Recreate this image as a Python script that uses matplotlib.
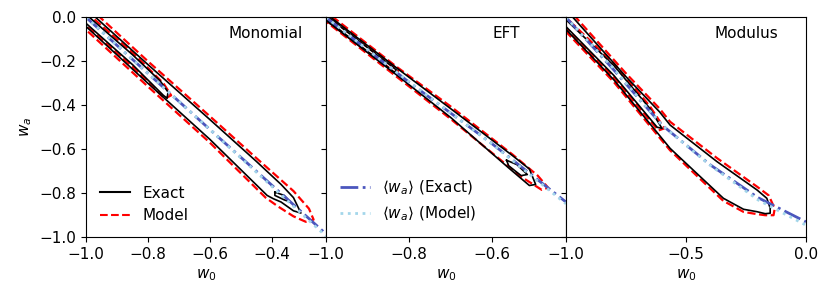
import matplotlib
matplotlib.use("Agg")
import matplotlib.pyplot as plt

# ---- panel names and x ranges ----
panels = ["Monomial", "EFT", "Modulus"]
xlims = [(-1.0, -0.225), (-1.0, -0.422), (-1.0, 0.0)]
xticks = [[-1.0, -0.8, -0.6, -0.4], [-1.0, -0.8, -0.6], [-1.0, -0.5, 0.0]]

# ---- mean w_a lines (exact / model) ----
mono_mean_w0 = [-1.0, -0.6, -0.225]
mono_mean_exact = [0.0, -0.51, -0.985]
mono_mean_model = [0.0, -0.51, -0.995]

eft_mean_w0 = [-1.0, -0.8, -0.6, -0.422]
eft_mean_exact = [0.0, -0.295, -0.575, -0.84]
eft_mean_model = [0.0, -0.293, -0.576, -0.848]

mod_mean_w0 = [-1.0, -0.8, -0.6, -0.4, -0.2, 0.0]
mod_mean_exact = [0.0, -0.24, -0.49, -0.67, -0.82, -0.93]
mod_mean_model = [0.0, -0.235, -0.49, -0.672, -0.83, -0.945]

# ---- contour outlines (w0, w_a), closed polygons ----
# Monomial
mono_exact_outer_w0 = [-1.04, -0.8, -0.6, -0.45, -0.37, -0.33, -0.306, -0.33, -0.37, -0.395, -0.415, -0.6, -0.8, -1.04]
mono_exact_outer_wa = [0.09, -0.215, -0.465, -0.655, -0.76, -0.82, -0.89, -0.88, -0.84, -0.825, -0.81, -0.555, -0.30, 0.01]
mono_exact_inner_w0 = [-1.03, -0.85, -0.76, -0.735, -0.738, -0.75, -0.85, -1.03]
mono_exact_inner_wa = [0.05, -0.17, -0.29, -0.34, -0.368, -0.355, -0.215, 0.01]
mono_exact_small_w0 = [-0.39, -0.36, -0.34, -0.36, -0.39, -0.39]
mono_exact_small_wa = [-0.795, -0.81, -0.84, -0.83, -0.81, -0.795]
mono_model_outer_w0 = [-1.04, -0.8, -0.6, -0.45, -0.33, -0.28, -0.265, -0.29, -0.33, -0.38, -0.42, -0.6, -0.8, -1.04]
mono_model_outer_wa = [0.11, -0.20, -0.45, -0.64, -0.79, -0.87, -0.92, -0.93, -0.905, -0.86, -0.82, -0.57, -0.315, -0.005]
mono_model_inner_w0 = [-1.03, -0.85, -0.75, -0.725, -0.745, -0.85, -1.03]
mono_model_inner_wa = [0.06, -0.16, -0.30, -0.355, -0.37, -0.225, 0.0]

# EFT
eft_exact_outer_w0 = [-1.03, -0.83, -0.7, -0.55, -0.51, -0.495, -0.51, -0.56, -0.7, -0.83, -1.03]
eft_exact_outer_wa = [0.06, -0.23, -0.415, -0.63, -0.69, -0.76, -0.765, -0.685, -0.455, -0.262, 0.03]
eft_exact_inner_w0 = [-1.03, -0.9, -0.83, -0.835, -0.9, -1.03]
eft_exact_inner_wa = [0.052, -0.138, -0.24, -0.25, -0.155, 0.035]
eft_exact_small_w0 = [-0.565, -0.54, -0.515, -0.53, -0.56, -0.565]
eft_exact_small_wa = [-0.65, -0.67, -0.715, -0.72, -0.675, -0.65]
eft_model_outer_w0 = [-1.03, -0.83, -0.7, -0.55, -0.49, -0.465, -0.48, -0.53, -0.7, -0.83, -1.03]
eft_model_outer_wa = [0.07, -0.225, -0.405, -0.625, -0.72, -0.775, -0.785, -0.725, -0.462, -0.27, 0.025]
eft_model_inner_w0 = [-1.03, -0.9, -0.825, -0.83, -0.9, -1.03]
eft_model_inner_wa = [0.055, -0.135, -0.24, -0.255, -0.158, 0.03]

# Modulus
mod_exact_outer_w0 = [-1.0, -0.75, -0.61, -0.566, -0.371, -0.204, -0.163, -0.149, -0.149, -0.17, -0.204, -0.26, -0.344, -0.441, -0.566, -0.608, -0.8, -1.0, -1.02]
mod_exact_outer_wa = [0.035, -0.27, -0.43, -0.49, -0.656, -0.785, -0.823, -0.868, -0.891, -0.893, -0.884, -0.873, -0.823, -0.724, -0.596, -0.54, -0.285, -0.055, -0.03]
mod_exact_inner_w0 = [-1.02, -0.8, -0.65, -0.60, -0.62, -0.8, -1.02]
mod_exact_inner_wa = [0.01, -0.22, -0.415, -0.505, -0.50, -0.265, -0.02]
mod_model_outer_w0 = [-1.0, -0.75, -0.61, -0.566, -0.371, -0.204, -0.155, -0.13, -0.135, -0.17, -0.204, -0.26, -0.344, -0.441, -0.566, -0.608, -0.8, -1.0]
mod_model_outer_wa = [0.05, -0.255, -0.415, -0.475, -0.64, -0.77, -0.81, -0.87, -0.90, -0.90, -0.895, -0.885, -0.835, -0.735, -0.605, -0.55, -0.295, -0.065]
mod_model_inner_w0 = [-1.02, -0.8, -0.65, -0.59, -0.615, -0.8, -1.02]
mod_model_inner_wa = [0.02, -0.21, -0.405, -0.505, -0.515, -0.275, -0.03]

means = [
    (mono_mean_w0, mono_mean_exact, mono_mean_model),
    (eft_mean_w0, eft_mean_exact, eft_mean_model),
    (mod_mean_w0, mod_mean_exact, mod_mean_model),
]
exact_contours = [
    [(mono_exact_outer_w0, mono_exact_outer_wa), (mono_exact_inner_w0, mono_exact_inner_wa),
     (mono_exact_small_w0, mono_exact_small_wa)],
    [(eft_exact_outer_w0, eft_exact_outer_wa), (eft_exact_inner_w0, eft_exact_inner_wa),
     (eft_exact_small_w0, eft_exact_small_wa)],
    [(mod_exact_outer_w0, mod_exact_outer_wa), (mod_exact_inner_w0, mod_exact_inner_wa)],
]
model_contours = [
    [(mono_model_outer_w0, mono_model_outer_wa), (mono_model_inner_w0, mono_model_inner_wa)],
    [(eft_model_outer_w0, eft_model_outer_wa), (eft_model_inner_w0, eft_model_inner_wa)],
    [(mod_model_outer_w0, mod_model_outer_wa), (mod_model_inner_w0, mod_model_inner_wa)],
]

plt.rcParams['font.size'] = 11

fig, axes = plt.subplots(1, 3, sharey=True, figsize=(8.3, 2.98), dpi=100)
fig.subplots_adjust(left=0.1036, right=0.971, bottom=0.204, top=0.942, wspace=0)

for i, ax in enumerate(axes):
    for w0, wa in model_contours[i]:
        ax.plot(w0 + w0[:1], wa + wa[:1], color='red', ls='--', lw=1.6)
    for w0, wa in exact_contours[i]:
        ax.plot(w0 + w0[:1], wa + wa[:1], color='black', ls='-', lw=1.2)
    w0, ex, mo = means[i]
    ax.plot(w0, ex, color='#4b56bd', ls='-.', lw=2)
    ax.plot(w0, mo, color='#a3d6ea', ls=':', lw=2)

    ax.set_xlim(*xlims[i])
    ax.set_ylim(-1.0, 0.0)
    ax.set_xticks(xticks[i])
    ax.set_xlabel(r'$w_0$')
    ax.text(0.75, 0.925, panels[i], transform=ax.transAxes, ha='center', va='center')

axes[0].set_ylabel(r'$w_a$')
axes[0].set_yticks([0.0, -0.2, -0.4, -0.6, -0.8, -1.0])

h1, = axes[0].plot([], [], color='black', ls='-', lw=1.5)
h2, = axes[0].plot([], [], color='red', ls='--', lw=1.5)
axes[0].legend([h1, h2], ['Exact', 'Model'], loc='lower left', frameon=False)

h3, = axes[1].plot([], [], color='#4b56bd', ls='-.', lw=2)
h4, = axes[1].plot([], [], color='#a3d6ea', ls=':', lw=2)
axes[1].legend([h3, h4], [r'$\langle w_a \rangle$ (Exact)', r'$\langle w_a \rangle$ (Model)'],
               loc='lower left', frameon=False)

plt.savefig('out.png', dpi=100)
